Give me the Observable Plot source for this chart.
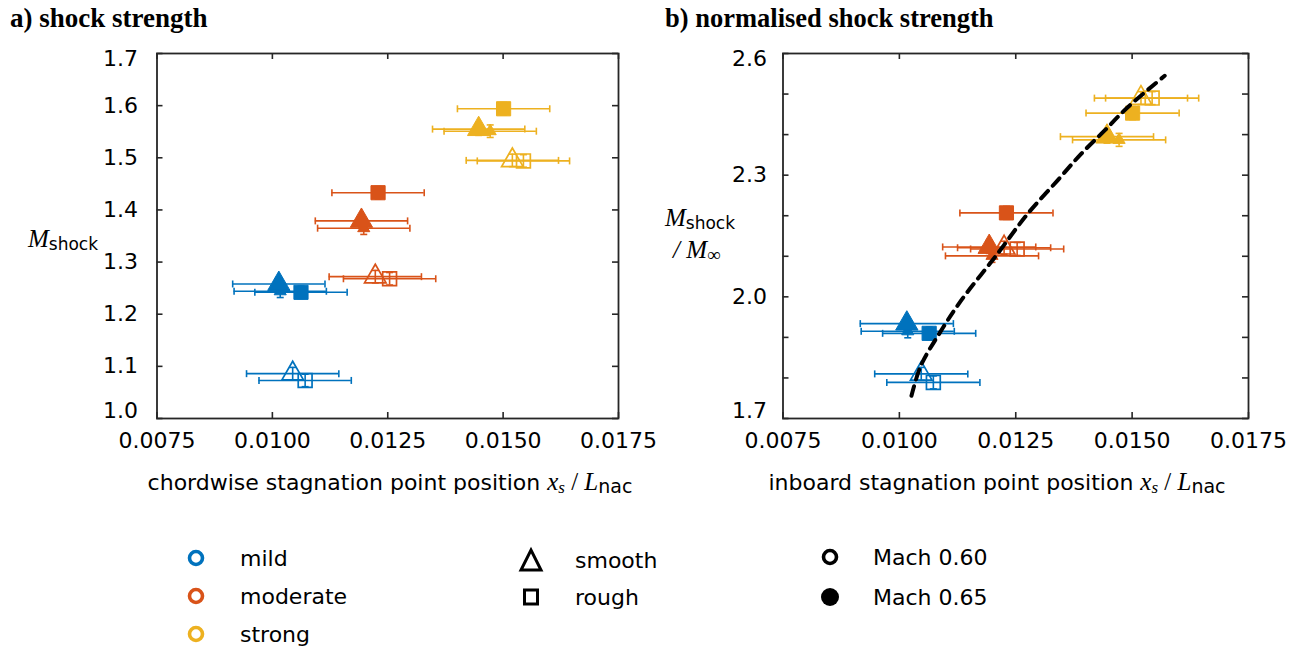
<!DOCTYPE html>
<html>
<head>
<meta charset="utf-8">
<script src="https://cdn.jsdelivr.net/npm/d3@7"></script>
<script src="https://cdn.jsdelivr.net/npm/@observablehq/plot@0.6"></script>
<style>
  body { margin: 0; background: #fff; }
  #wrap { position: relative; width: 1312px; height: 649px; overflow: hidden; background: #fff; }
  #wrap > svg { position: absolute; top: 0; }
</style>
</head>
<body>
<div id="wrap"></div>
<script>
// ---------- data ----------
const strengthCats = ["mild", "moderate", "strong"];
const strengthColors = ["#0072BD", "#D95319", "#EDB120"];
const surfaceCats = ["smooth", "rough"];
const machCats = ["Mach 0.60", "Mach 0.65"];

// one entry per measured case (5 per shock strength)
const ptStrength = ["mild","mild","mild","mild","mild",
                    "moderate","moderate","moderate","moderate","moderate",
                    "strong","strong","strong","strong","strong"];
const ptSurface  = ["smooth","rough","smooth","smooth","rough",
                    "smooth","rough","smooth","smooth","rough",
                    "smooth","rough","smooth","smooth","rough"];
const ptMach     = ["Mach 0.60","Mach 0.60","Mach 0.65","Mach 0.65","Mach 0.65",
                    "Mach 0.60","Mach 0.60","Mach 0.65","Mach 0.65","Mach 0.65",
                    "Mach 0.60","Mach 0.60","Mach 0.65","Mach 0.65","Mach 0.65"];
// repeat run whose marker is mostly hidden behind the main smooth marker
const ptRepeat   = [false,false,true,false,false,
                    false,false,true,false,false,
                    false,false,true,false,false];

// a) chordwise stagnation point position vs M_shock
const aX = [0.01044, 0.01071, 0.01017, 0.01014, 0.01062,
            0.01223, 0.01254, 0.01198, 0.01193, 0.01229,
            0.01520, 0.01544, 0.01472, 0.01447, 0.01501];
const aY = [1.086, 1.073, 1.244, 1.258, 1.242,
            1.272, 1.268, 1.365, 1.379, 1.433,
            1.495, 1.494, 1.551, 1.555, 1.594];

// b) inboard stagnation point position vs M_shock / M_inf
const bX = [0.01047, 0.01073, 0.01018, 0.01016, 0.01064,
            0.01225, 0.01253, 0.01199, 0.01193, 0.01230,
            0.01519, 0.01543, 0.01472, 0.01446, 0.01501];
const bY = [1.810, 1.789, 1.915, 1.934, 1.910,
            2.121, 2.118, 2.101, 2.123, 2.207,
            2.490, 2.490, 2.387, 2.395, 2.453];

const xErr = 0.0010;
const aYErr = 0.012;
const bYErr = 0.016;

// dashed trend line in panel b
const fitX = [0.01026, 0.01046, 0.01085, 0.01132, 0.01210, 0.01275, 0.01339, 0.01390, 0.01440, 0.01490, 0.01570];
const fitY = [1.756, 1.830, 1.908, 1.990, 2.105, 2.204, 2.286, 2.352, 2.409, 2.467, 2.545];

// ticks
const xTicks = [0.0075, 0.0100, 0.0125, 0.0150, 0.0175];
const aYTicks = [1.0, 1.1, 1.2, 1.3, 1.4, 1.5, 1.6, 1.7];
const bYTicks = [1.7, 1.8, 1.9, 2.0, 2.1, 2.2, 2.3, 2.4, 2.5, 2.6];
const bYLabelTicks = [1.7, 2.0, 2.3, 2.6];

// ---------- helpers ----------
const vcap = { draw(ctx, size) { const h = Math.sqrt(size / Math.PI); ctx.moveTo(0, -h); ctx.lineTo(0, h); } };
const hcap = { draw(ctx, size) { const h = Math.sqrt(size / Math.PI); ctx.moveTo(-h, 0); ctx.lineTo(h, 0); } };
const AX = "#262626";

function panel({xs, ys, yErr, yDomain, yTicks, yLabelTicks, width, marginLeft, marginRight, fit, tickPadY}) {
  const height = 500, marginTop = 53, marginBottom = 82;
  const innerW = width - marginLeft - marginRight;
  const innerH = height - marginTop - marginBottom;
  const rows = ptStrength.map((s, i) => ({s, surf: ptSurface[i], mach: ptMach[i], rep: ptRepeat[i], x: xs[i], y: ys[i]}));
  const open = rows.filter(d => d.mach === "Mach 0.60");
  const filled = rows.filter(d => d.mach === "Mach 0.65");
  const yMin = yLabelTicks[0], yMax = yLabelTicks[yLabelTicks.length - 1];
  const fmtY = d3.format(".1f");
  const marks = [
    // error bars (x)
    Plot.ruleY(rows, {y: "y", x1: d => d.x - xErr, x2: d => d.x + xErr, stroke: "s", strokeWidth: 1.6}),
    Plot.dot(rows, {x: d => d.x - xErr, y: "y", symbol: vcap, r: 3.5, stroke: "s", fill: "none", strokeWidth: 1.6}),
    Plot.dot(rows, {x: d => d.x + xErr, y: "y", symbol: vcap, r: 3.5, stroke: "s", fill: "none", strokeWidth: 1.6}),
    // error bars (y)
    Plot.ruleX(rows, {x: "x", y1: d => d.y - yErr, y2: d => d.y + yErr, stroke: "s", strokeWidth: 1.6}),
    Plot.dot(rows, {x: "x", y: d => d.y - yErr, symbol: hcap, r: 3.5, stroke: "s", fill: "none", strokeWidth: 1.6}),
    Plot.dot(rows, {x: "x", y: d => d.y + yErr, symbol: hcap, r: 3.5, stroke: "s", fill: "none", strokeWidth: 1.6}),
    // markers
    Plot.dot(open.filter(d => d.surf === "smooth"), {x: "x", y: "y", symbol: "triangle", r: 8, stroke: "s", fill: "none", strokeWidth: 1.7}),
    Plot.dot(open.filter(d => d.surf === "rough"), {x: "x", y: "y", symbol: "square", r: 7.8, stroke: "s", fill: "none", strokeWidth: 1.7}),
    Plot.dot(filled.filter(d => d.rep), {x: "x", y: "y", symbol: "triangle", r: 4.5, stroke: "s", fill: "s", strokeWidth: 1}),
    Plot.dot(filled.filter(d => d.surf === "smooth" && !d.rep), {x: "x", y: "y", symbol: "triangle", r: 8.3, stroke: "s", fill: "s", strokeWidth: 1}),
    Plot.dot(filled.filter(d => d.surf === "rough"), {x: "x", y: "y", symbol: "square", r: 8, stroke: "s", fill: "s", strokeWidth: 1}),
  ];
  if (fit) {
    marks.push(Plot.line(fitX.map((x, i) => ({x, y: fitY[i]})), {x: "x", y: "y", curve: "catmull-rom", stroke: "#000", strokeWidth: 4, strokeDasharray: "10,7"}));
  }
  marks.push(
    // inward ticks on all four sides
    Plot.ruleX(xTicks, {x: d => d, insetTop: innerH - 6, stroke: AX, strokeWidth: 1.6}),
    Plot.ruleX(xTicks, {x: d => d, insetBottom: innerH - 6, stroke: AX, strokeWidth: 1.6}),
    Plot.ruleY(yTicks, {y: d => d, insetRight: innerW - 6, stroke: AX, strokeWidth: 1.6}),
    Plot.ruleY(yTicks, {y: d => d, insetLeft: innerW - 6, stroke: AX, strokeWidth: 1.6}),
    Plot.frame({stroke: AX, strokeWidth: 1.8}),
    Plot.axisX({ticks: xTicks, tickSize: 0, tickPadding: 14, tickFormat: d3.format(".4f"), label: null}),
    Plot.axisY({ticks: yLabelTicks.filter(t => t !== yMin && t !== yMax), tickSize: 0, tickPadding: tickPadY, tickFormat: fmtY, label: null}),
    Plot.axisY({ticks: [yMax], tickSize: 0, tickPadding: tickPadY, tickFormat: fmtY, label: null, dy: 5}),
    Plot.axisY({ticks: [yMin], tickSize: 0, tickPadding: tickPadY, tickFormat: fmtY, label: null, dy: -8})
  );
  return Plot.plot({
    width, height, marginTop, marginBottom, marginLeft, marginRight,
    style: {fontSize: "22px", fontFamily: "'DejaVu Sans', sans-serif", color: "#000", background: "transparent", overflow: "visible"},
    x: {domain: [0.0075, 0.0175], nice: false},
    y: {domain: yDomain, nice: false},
    color: {domain: strengthCats, range: strengthColors},
    marks
  });
}

const wrap = document.getElementById("wrap");

const pa = panel({xs: aX, ys: aY, yErr: aYErr, yDomain: [1.0, 1.7], yTicks: aYTicks, yLabelTicks: aYTicks,
                  width: 655, marginLeft: 156.5, marginRight: 37, fit: false, tickPadY: 19});
pa.style.left = "0px";
wrap.appendChild(pa);

const pb = panel({xs: bX, ys: bY, yErr: bYErr, yDomain: [1.7, 2.6], yTicks: bYTicks, yLabelTicks: bYLabelTicks,
                  width: 657, marginLeft: 127.5, marginRight: 64, fit: true, tickPadY: 16});
pb.style.left = "655px";
wrap.appendChild(pb);

// ---------- titles, axis labels, legend (text overlay) ----------
const SANS = "'DejaVu Sans', sans-serif";
const SERIF = "'Liberation Serif', 'DejaVu Serif', serif";
const ns = "http://www.w3.org/2000/svg";
const ov = document.createElementNS(ns, "svg");
ov.setAttribute("width", 1312);
ov.setAttribute("height", 649);
ov.style.left = "0px";
ov.style.pointerEvents = "none";

const legendStrength = strengthCats.map((c, i) => `
  <circle cx="196" cy="${558 + i * 38}" r="6.5" fill="none" stroke="${strengthColors[i]}" stroke-width="3.6"/>
  <text x="240" y="${566 + i * 38}">${c}</text>`).join("");

const subLabel = (name) => `<tspan font-family="${SERIF}" font-style="italic" font-size="25">x</tspan><tspan font-family="${SERIF}" font-style="italic" font-size="17" dy="3">s</tspan><tspan dy="-3" font-family="${SERIF}" font-size="25"> / </tspan><tspan font-family="${SERIF}" font-style="italic" font-size="25">L</tspan><tspan font-size="19" dy="3">nac</tspan>`;

ov.innerHTML = `
<g font-family="${SERIF}" font-weight="bold" font-size="27" fill="#000">
  <text x="10" y="27">a) shock strength</text>
  <text x="665" y="27" font-size="26.5">b) normalised shock strength</text>
</g>
<g font-family="${SANS}" font-size="22" fill="#000">
  <text x="28" y="247"><tspan font-family="${SERIF}" font-style="italic" font-size="25">M</tspan><tspan font-size="17" dy="3">shock</tspan></text>
  <text x="665" y="226"><tspan font-family="${SERIF}" font-style="italic" font-size="25">M</tspan><tspan font-size="17" dy="3">shock</tspan></text>
  <text x="673" y="258"><tspan font-family="${SERIF}" font-style="italic" font-size="25">/ M</tspan><tspan font-family="${SERIF}" font-size="19" dy="3">∞</tspan></text>
  <text x="390" y="490" text-anchor="middle">chordwise stagnation point position ${subLabel()}</text>
  <text x="997" y="490" text-anchor="middle">inboard stagnation point position ${subLabel()}</text>
  ${legendStrength}
  <polygon points="521,570 541,570 531,550" fill="none" stroke="#000" stroke-width="3"/>
  <text x="575" y="568">${surfaceCats[0]}</text>
  <rect x="524.5" y="590" width="13" height="14" fill="none" stroke="#000" stroke-width="3"/>
  <text x="575" y="605">${surfaceCats[1]}</text>
  <circle cx="830" cy="557" r="6.5" fill="none" stroke="#000" stroke-width="3.6"/>
  <text x="873" y="565">${machCats[0]}</text>
  <circle cx="830" cy="597" r="9" fill="#000"/>
  <text x="873" y="605">${machCats[1]}</text>
</g>`;
wrap.appendChild(ov);
</script>
</body>
</html>
